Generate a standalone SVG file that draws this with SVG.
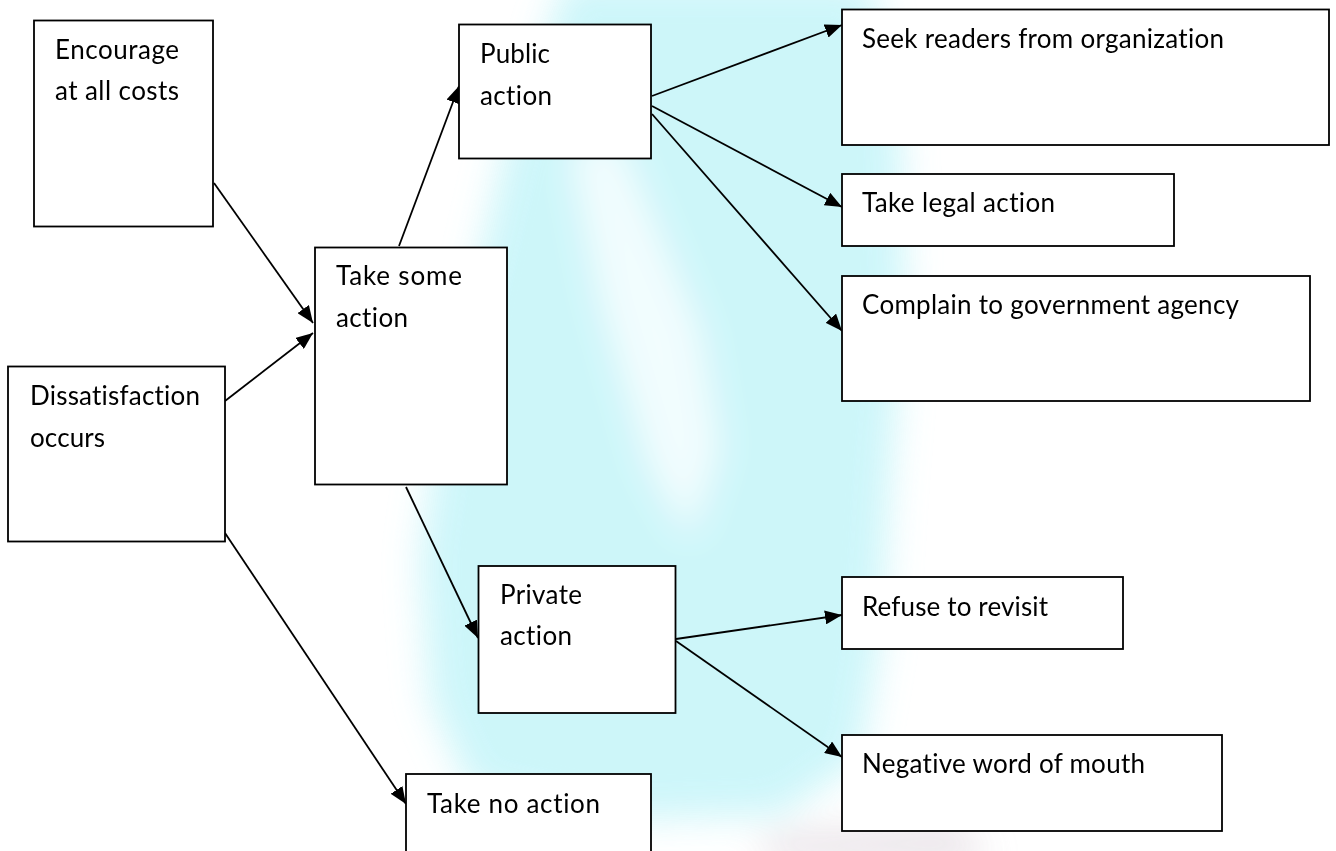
<svg xmlns="http://www.w3.org/2000/svg" width="1336" height="851" viewBox="0 0 1336 851">
  <defs>
    <style>
      .box { fill: #ffffff; stroke: #000000; stroke-width: 1.8; }
      .lbl { font-family: Lato, "Open Sans", "Liberation Sans", sans-serif; font-size: 26px; fill: #000000; font-variant-ligatures: none; font-feature-settings: "liga" 0, "clig" 0; }
      .edge { fill: none; stroke: #000000; stroke-width: 1.8; marker-end: url(#arrow); }
    </style>
    <marker id="arrow" markerUnits="userSpaceOnUse" markerWidth="18" markerHeight="14" refX="17" refY="7" orient="auto">
      <path d="M0,0 L17,7 L0,14 z" fill="#000000"/>
    </marker>
    <filter id="soft" x="-20%" y="-20%" width="140%" height="140%">
      <feGaussianBlur stdDeviation="18"/>
    </filter>
  </defs>

  <!-- page and faint watermark wash -->
  <rect width="1336" height="851" fill="#ffffff"/>
  <g id="watermark" filter="url(#soft)" opacity="0.9">
    <polygon fill="#c8f5f9" points="565,-20 870,-20 900,120 905,300 890,480 880,640 860,760 780,815 600,820 470,790 430,700 420,560 440,420 470,300 505,150 540,60"/>
    <polygon fill="#ffffff" opacity="0.75" points="570,150 615,130 700,330 720,450 690,540 650,470 600,300"/>
    <polygon fill="#ddd4dc" opacity="0.8" points="770,835 960,825 990,860 760,860"/>
  </g>

  <!-- connectors -->
  <g id="connectors">
    <line class="edge" x1="214" y1="183" x2="313" y2="323"/>
    <line class="edge" x1="225" y1="401" x2="313" y2="333"/>
    <line class="edge" x1="399" y1="246" x2="459" y2="86"/>
    <line class="edge" x1="652" y1="96" x2="842" y2="25"/>
    <line class="edge" x1="652" y1="106" x2="842" y2="207"/>
    <line class="edge" x1="652" y1="114" x2="842" y2="331"/>
    <line class="edge" x1="406" y1="487" x2="478" y2="638"/>
    <line class="edge" x1="225" y1="533" x2="406" y2="804"/>
    <line class="edge" x1="676" y1="639" x2="842" y2="615"/>
    <line class="edge" x1="676" y1="641" x2="842" y2="757"/>
  </g>

  <g id="encourage">
    <rect class="box" x="34" y="20.5" width="179" height="206"/>
    <text class="lbl" x="55" y="59" textLength="124">Encourage</text>
    <text class="lbl" x="55" y="100" textLength="124">at all costs</text>
  </g>

  <g id="dissatisfaction">
    <rect class="box" x="8" y="366.5" width="217" height="175"/>
    <text class="lbl" x="30" y="405" textLength="170">Dissatisfaction</text>
    <text class="lbl" x="30" y="447" textLength="75">occurs</text>
  </g>

  <g id="take-some-action">
    <rect class="box" x="315" y="247.5" width="192" height="237"/>
    <text class="lbl" x="336" y="285" textLength="126">Take some</text>
    <text class="lbl" x="336" y="327" textLength="72">action</text>
  </g>

  <g id="public-action">
    <rect class="box" x="459" y="24.5" width="192" height="134"/>
    <text class="lbl" x="480" y="63" textLength="70">Public</text>
    <text class="lbl" x="480" y="105" textLength="72">action</text>
  </g>

  <g id="private-action">
    <rect class="box" x="478.5" y="566" width="197" height="147"/>
    <text class="lbl" x="500" y="604" textLength="82">Private</text>
    <text class="lbl" x="500" y="645" textLength="72">action</text>
  </g>

  <g id="take-no-action">
    <rect class="box" x="406" y="774" width="245" height="100"/>
    <text class="lbl" x="427" y="813" textLength="173">Take no action</text>
  </g>

  <g id="seek-readers">
    <rect class="box" x="842" y="9.5" width="487" height="135.5"/>
    <text class="lbl" x="862" y="48" textLength="362">Seek readers from organization</text>
  </g>

  <g id="legal-action">
    <rect class="box" x="842" y="174" width="332" height="72"/>
    <text class="lbl" x="862" y="212" textLength="193">Take legal action</text>
  </g>

  <g id="complain">
    <rect class="box" x="842" y="276" width="468" height="125"/>
    <text class="lbl" x="862" y="314" textLength="377">Complain to government agency</text>
  </g>

  <g id="refuse-revisit">
    <rect class="box" x="842" y="577" width="281" height="72"/>
    <text class="lbl" x="862" y="616" textLength="186">Refuse to revisit</text>
  </g>

  <g id="negative-wom">
    <rect class="box" x="842" y="735" width="380" height="96"/>
    <text class="lbl" x="862" y="773" textLength="283">Negative word of mouth</text>
  </g>
</svg>
